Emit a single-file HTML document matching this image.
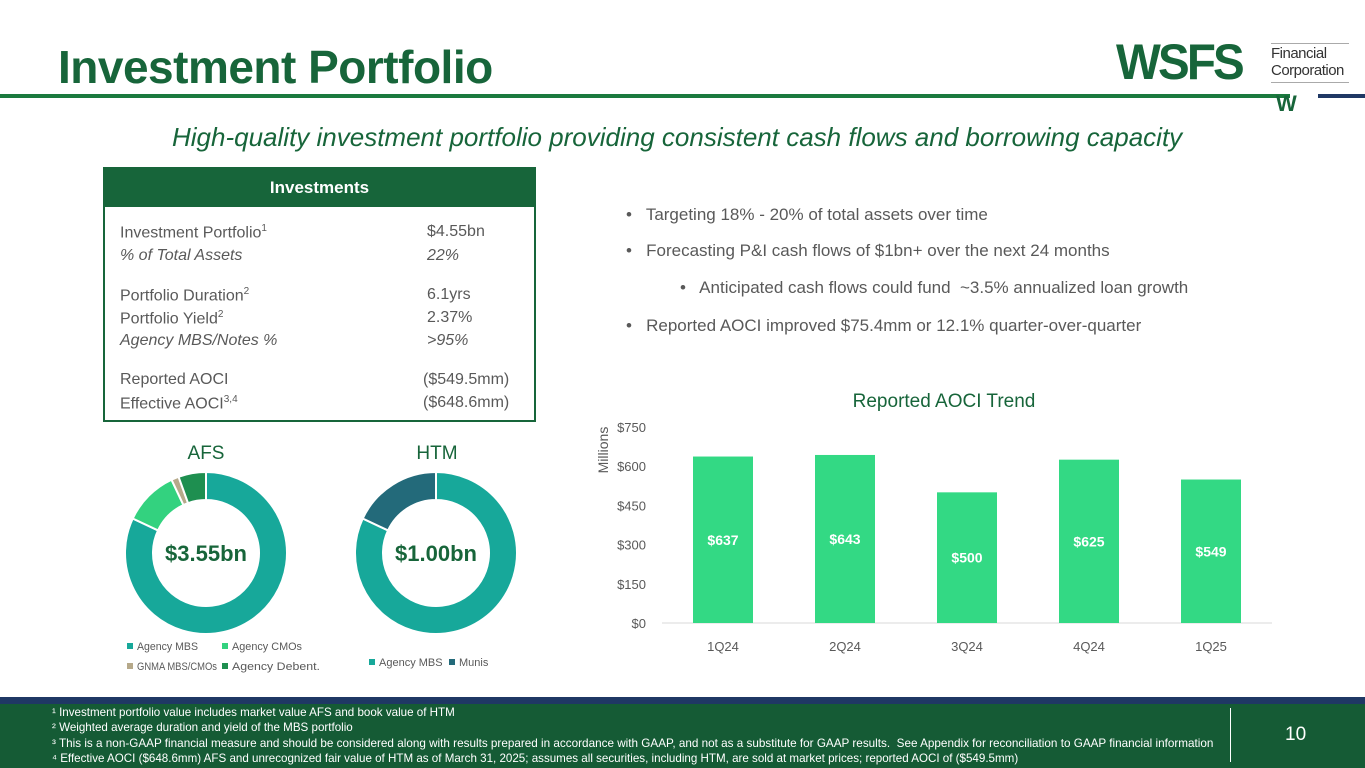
<!DOCTYPE html>
<html><head><meta charset="utf-8"><style>
*{margin:0;padding:0;box-sizing:border-box}
body{width:1365px;height:768px;position:relative;overflow:hidden;background:#fff;font-family:"Liberation Sans",sans-serif;color:#595959}
.abs{position:absolute}
.row{position:absolute;font-size:16px;color:#595959;white-space:nowrap}
.bl{position:absolute;font-size:17px;color:#595959;white-space:nowrap}
sup{font-size:10px}
.fn{position:absolute;left:52px;font-size:11.6px;color:#fff;white-space:nowrap;transform-origin:left top}
</style></head><body>
<div class="abs" style="left:58px;top:40px;font-size:46px;font-weight:bold;color:#17653a;letter-spacing:-0.5px">Investment Portfolio</div>
<div class="abs" style="left:0;top:94px;width:1290px;height:4px;background:#1b7a3e"></div>
<div class="abs" style="left:1318px;top:94px;width:47px;height:4px;background:#1f3864"></div>
<div>
<div class="abs" style="left:1116px;top:36px;font-size:50px;font-weight:900;color:#17653a;letter-spacing:-3px;line-height:52px;transform:scaleX(0.95);transform-origin:left top">WSFS</div>
<div class="abs" style="left:1271px;top:43px;width:78px;height:1px;background:#aaa"></div>
<div class="abs" style="left:1271px;top:45px;font-size:15px;color:#333;line-height:17px;letter-spacing:-0.5px">Financial<br>Corporation</div>
<div class="abs" style="left:1271px;top:82px;width:78px;height:1px;background:#aaa"></div>
<div class="abs" style="left:1276px;top:93px;font-size:22px;font-weight:900;color:#17653a;line-height:22px">W</div>
</div>
<div class="abs" style="left:172px;top:122px;font-size:26px;font-style:italic;color:#17653a">High-quality investment portfolio providing consistent cash flows and borrowing capacity</div>

<div class="abs" style="left:103px;top:167px;width:433px;height:255px;border:2px solid #17653a">
<div style="height:38px;background:#17653a;color:#fff;font-weight:bold;font-size:17px;text-align:center;line-height:38px">Investments</div>
</div>
<div class="row" style="left:120px;top:223px">Investment Portfolio<sup>1</sup></div><div class="row" style="left:427px;top:223px">$4.55bn</div>
<div class="row" style="left:120px;top:247px;font-style:italic">% of Total Assets</div><div class="row" style="left:427px;top:247px;font-style:italic">22%</div>
<div class="row" style="left:120px;top:286px">Portfolio Duration<sup>2</sup></div><div class="row" style="left:427px;top:286px">6.1yrs</div>
<div class="row" style="left:120px;top:309px">Portfolio Yield<sup>2</sup></div><div class="row" style="left:427px;top:309px">2.37%</div>
<div class="row" style="left:120px;top:332px;font-style:italic">Agency MBS/Notes %</div><div class="row" style="left:427px;top:332px;font-style:italic">&gt;95%</div>
<div class="row" style="left:120px;top:371px">Reported AOCI</div><div class="row" style="left:423px;top:371px">($549.5mm)</div>
<div class="row" style="left:120px;top:394px">Effective AOCI<sup>3,4</sup></div><div class="row" style="left:423px;top:394px">($648.6mm)</div>

<div>
<div class="bl" style="left:626px;top:205px">•&nbsp;&nbsp; Targeting 18% - 20% of total assets over time</div>
<div class="bl" style="left:626px;top:241px">•&nbsp;&nbsp; Forecasting P&amp;I cash flows of $1bn+ over the next 24 months</div>
<div class="bl" style="left:680px;top:278px">•&nbsp;&nbsp; Anticipated cash flows could fund&nbsp; ~3.5% annualized loan growth</div>
<div class="bl" style="left:626px;top:316px">•&nbsp;&nbsp; Reported AOCI improved $75.4mm or 12.1% quarter-over-quarter</div>
</div>

<svg class="abs" style="left:0;top:0" width="1365" height="700" id="svg">
<text x="206" y="459" text-anchor="middle" font-size="19" fill="#17653a">AFS</text>
<text x="437" y="459" text-anchor="middle" font-size="19" fill="#17653a">HTM</text>
<g id="afs"></g><g id="htm"></g>
<text x="206" y="561" text-anchor="middle" font-size="22" font-weight="bold" fill="#17653a">$3.55bn</text>
<text x="436" y="561" text-anchor="middle" font-size="22" font-weight="bold" fill="#17653a">$1.00bn</text>
<g font-size="11" fill="#595959">
<rect x="127" y="643" width="6" height="6" fill="#17a89a"/><text x="137" y="650" textLength="61" lengthAdjust="spacingAndGlyphs">Agency MBS</text>
<rect x="222" y="643" width="6" height="6" fill="#33d27f"/><text x="232" y="650" textLength="70" lengthAdjust="spacingAndGlyphs">Agency CMOs</text>
<rect x="127" y="663" width="6" height="6" fill="#b6a98a"/><text x="137" y="670" textLength="80" lengthAdjust="spacingAndGlyphs">GNMA MBS/CMOs</text>
<rect x="222" y="663" width="6" height="6" fill="#1e8f50"/><text x="232" y="670" textLength="88" lengthAdjust="spacingAndGlyphs">Agency Debent.</text>
</g>
<g font-size="11" fill="#595959">
<rect x="369" y="659" width="6" height="6" fill="#17a89a"/><text x="379" y="666">Agency MBS</text>
<rect x="449" y="659" width="6" height="6" fill="#236a7a"/><text x="459" y="666">Munis</text>
</g>
<text x="944" y="407" text-anchor="middle" font-size="19" fill="#17653a">Reported AOCI Trend</text>
<text transform="translate(608,450) rotate(-90)" text-anchor="middle" font-size="14" fill="#595959">Millions</text>
<g id="bars"></g>
</svg>

<div class="abs" style="left:0;top:697px;width:1365px;height:7px;background:#1f3864"></div>
<div class="abs" style="left:0;top:704px;width:1365px;height:64px;background:#155b35">
<div class="fn" style="top:2px">¹ Investment portfolio value includes market value AFS and book value of HTM</div>
<div class="fn" style="top:17px">² Weighted average duration and yield of the MBS portfolio</div>
<div class="fn" style="top:33px;transform:scaleX(1.01)">³ This is a non-GAAP financial measure and should be considered along with results prepared in accordance with GAAP, and not as a substitute for GAAP results.&nbsp; See Appendix for reconciliation to GAAP financial information</div>
<div class="fn" style="top:48px;transform:scaleX(1.0)">⁴ Effective AOCI ($648.6mm) AFS and unrecognized fair value of HTM as of March 31, 2025; assumes all securities, including HTM, are sold at market prices; reported AOCI of ($549.5mm)</div>
<div class="abs" style="left:1230px;top:4px;width:1px;height:54px;background:#fff"></div>
<div class="abs" style="left:1285px;top:20px;font-size:19px;color:#fff">10</div>
</div>

<script>
const afsLabels=["Agency MBS","Agency CMOs","GNMA MBS/CMOs","Agency Debent."];
const afsValues=[82,11,1.5,5.5];
const afsColors=["#17a89a","#33d27f","#b6a98a","#1e8f50"];
const htmLabels=["Agency MBS","Munis"];
const htmValues=[82,18];
const htmColors=["#17a89a","#236a7a"];
const quarters=["1Q24","2Q24","3Q24","4Q24","1Q25"];
const aoci=[637,643,500,625,549];
const yTicks=[0,150,300,450,600,750];
const NS="http://www.w3.org/2000/svg";
function donut(g,vals,cols,labels,cx,cy,R,r,name){
  const tot=vals.reduce((a,b)=>a+b,0);let a0=-Math.PI/2;
  vals.forEach((v,i)=>{
    const a1=a0+v/tot*2*Math.PI;const lg=(a1-a0)>Math.PI?1:0;
    const p=(rr,a)=>[cx+rr*Math.cos(a),cy+rr*Math.sin(a)];
    const [x1,y1]=p(R,a0),[x2,y2]=p(R,a1),[x3,y3]=p(r,a1),[x4,y4]=p(r,a0);
    const e=document.createElementNS(NS,"path");
    e.setAttribute("d",`M${x1},${y1}A${R},${R} 0 ${lg} 1 ${x2},${y2}L${x3},${y3}A${r},${r} 0 ${lg} 0 ${x4},${y4}Z`);
    e.setAttribute("fill",cols[i]);e.setAttribute("stroke","#fff");e.setAttribute("stroke-width","2");
    
    
    g.appendChild(e);a0=a1;
  });
}
donut(document.getElementById("afs"),afsValues,afsColors,afsLabels,206,553,81,53,"afs");
donut(document.getElementById("htm"),htmValues,htmColors,htmLabels,436,553,81,53,"htm");
const g=document.getElementById("bars");
const y0=623,y1=427,vmax=750,x0=662,x1=1272;
const ys=v=>y0-(v/vmax)*(y0-y1);
const step=(x1-x0)/quarters.length;
const xs=i=>x0+step*(i+0.5);
function mk(tag,attrs,txt){const e=document.createElementNS(NS,tag);for(const k in attrs)e.setAttribute(k,attrs[k]);if(txt!==undefined)e.textContent=txt;g.appendChild(e);return e;}
yTicks.forEach(t=>{
  const e=mk("text",{x:646,y:ys(t)+5,"text-anchor":"end","font-size":13,fill:"#595959"},"$"+t);
  
  
});
const ax=mk("line",{x1:x0,x2:x1,y1:y0,y2:y0,stroke:"#d9d9d9"});


quarters.forEach((q,i)=>{
  const bw=60,h=y0-ys(aoci[i]);
  const r=mk("rect",{x:xs(i)-bw/2,y:ys(aoci[i]),width:bw,height:h,fill:"#33d984"});
  
  
  const l=mk("text",{x:xs(i),y:(ys(aoci[i])+y0)/2+5,"text-anchor":"middle","font-size":14,"font-weight":"bold",fill:"#fff"},"$"+aoci[i]);
  
  
  const t=mk("text",{x:xs(i),y:651,"text-anchor":"middle","font-size":13,fill:"#595959"},q);
  
  
});
</script>
</body></html>
